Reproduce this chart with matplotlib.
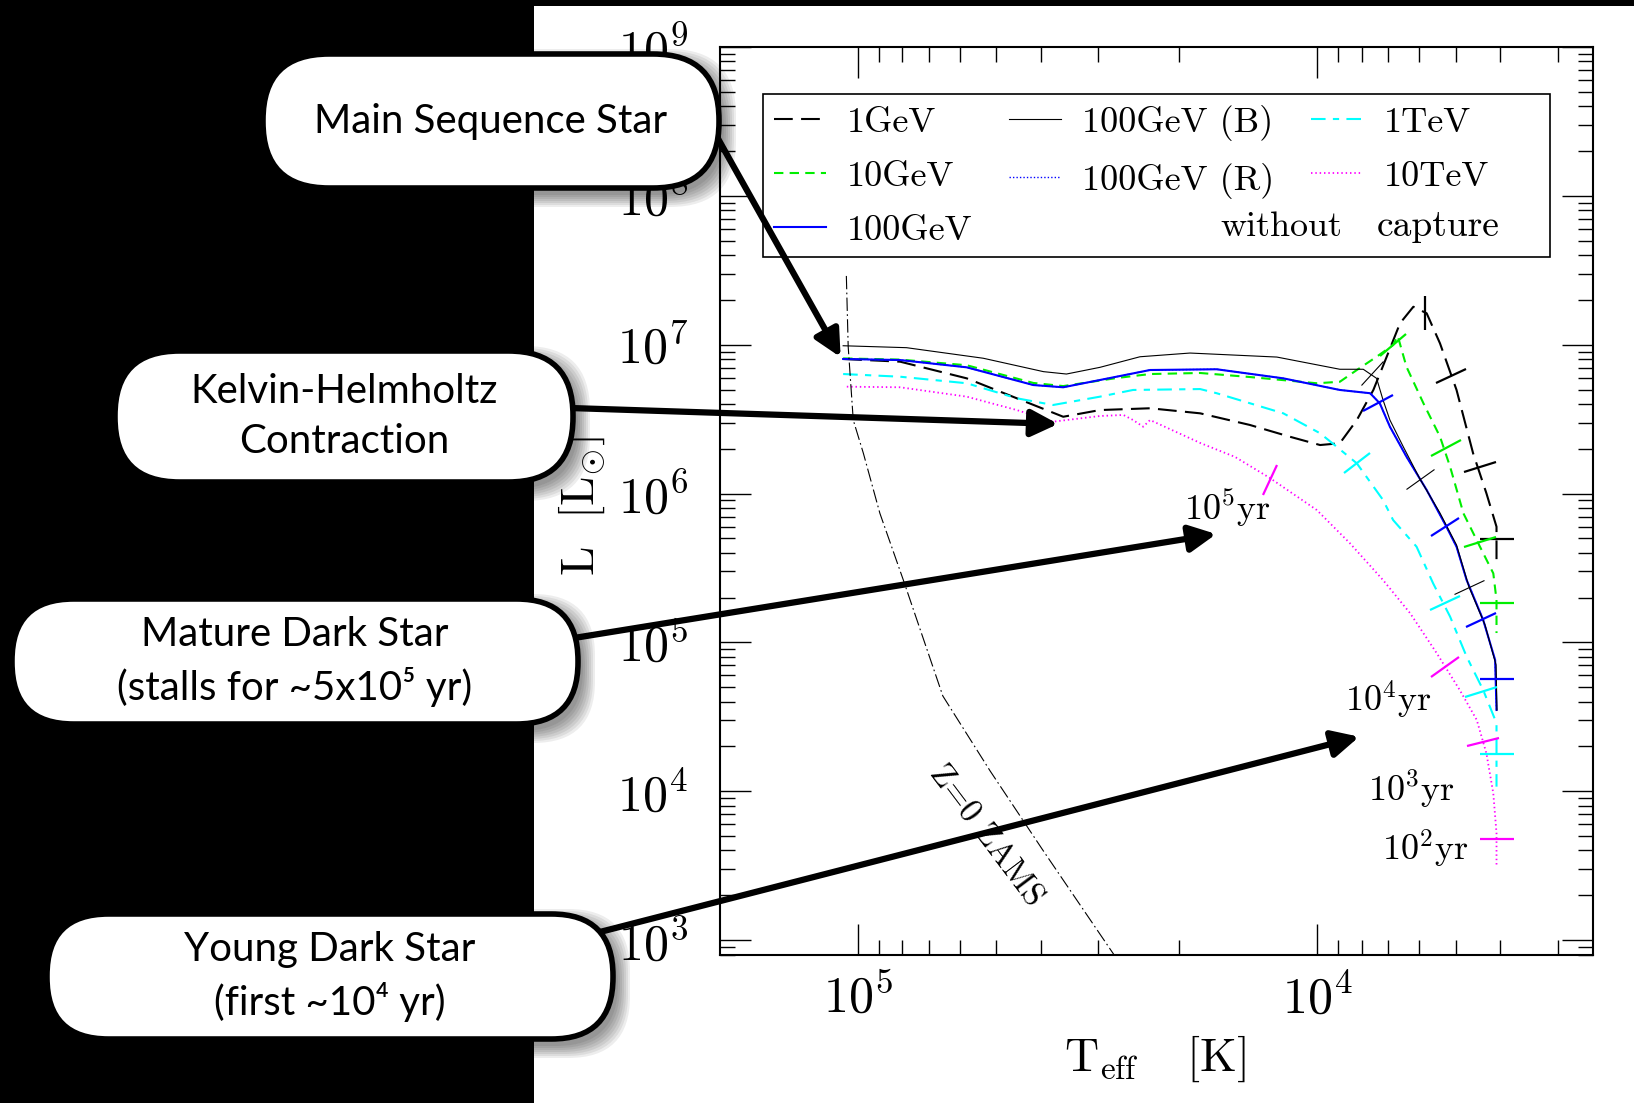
import numpy as np
import matplotlib.pyplot as plt
from matplotlib.markers import MarkerStyle
from matplotlib.transforms import Affine2D
from matplotlib.patches import FancyBboxPatch, Rectangle, ConnectionPatch
from matplotlib.ticker import LogLocator, FuncFormatter, NullFormatter

plt.rcParams['mathtext.fontset'] = 'cm'

# tracks: log10(Teff [K]) and log10(L [Lsun])
lt_1gev = [5.032, 4.908, 4.763, 4.654, 4.553, 4.473, 4.364, 4.255, 4.147, 4.060, 3.994, 3.951,
           3.914, 3.878, 3.849, 3.820, 3.791, 3.762, 3.733, 3.697, 3.661, 3.632, 3.610, 3.610]
ll_1gev = [6.904, 6.886, 6.774, 6.640, 6.516, 6.561, 6.573, 6.539, 6.461, 6.382, 6.326, 6.338,
           6.494, 6.696, 6.919, 7.144, 7.255, 7.211, 7.009, 6.696, 6.271, 6.002, 5.777, 5.509]

lt_10gev = [5.032, 4.908, 4.763, 4.618, 4.553, 4.437, 4.364, 4.255, 4.147, 4.001, 3.951, 3.914,
            3.871, 3.835, 3.825, 3.806, 3.769, 3.733, 3.711, 3.682, 3.646, 3.617, 3.610, 3.610]
ll_10gev = [6.908, 6.900, 6.862, 6.743, 6.722, 6.776, 6.803, 6.810, 6.783, 6.741, 6.751, 6.830,
            6.919, 6.998, 7.059, 6.852, 6.606, 6.382, 6.180, 5.867, 5.643, 5.464, 5.285, 5.063]

lt_100gev = [5.032, 4.908, 4.763, 4.618, 4.553, 4.437, 4.364, 4.219, 4.074, 3.951, 3.885, 3.864,
             3.842, 3.806, 3.762, 3.719, 3.697, 3.675, 3.639, 3.613, 3.610]
ll_100gev = [6.904, 6.897, 6.848, 6.729, 6.714, 6.785, 6.830, 6.835, 6.774, 6.696, 6.674, 6.606,
             6.449, 6.248, 6.024, 5.777, 5.643, 5.419, 5.151, 4.882, 4.546]

lt_100b = [5.032, 4.894, 4.727, 4.596, 4.546, 4.473, 4.386, 4.277, 4.088, 3.951, 3.900, 3.871,
           3.857, 3.842, 3.813, 3.777, 3.733, 3.697, 3.670, 3.635, 3.611, 3.609]
ll_100b = [6.993, 6.980, 6.909, 6.819, 6.803, 6.848, 6.919, 6.944, 6.917, 6.835, 6.835, 6.774,
           6.629, 6.494, 6.315, 6.100, 5.869, 5.654, 5.374, 5.117, 4.849, 4.546]

lt_1tev = [5.032, 4.908, 4.763, 4.654, 4.575, 4.473, 4.401, 4.255, 4.219, 4.074, 3.994, 3.958,
           3.914, 3.857, 3.835, 3.784, 3.748, 3.711, 3.675, 3.639, 3.610, 3.610]
ll_1tev = [6.803, 6.785, 6.741, 6.640, 6.595, 6.651, 6.696, 6.702, 6.674, 6.539, 6.405, 6.315,
           6.203, 5.957, 5.822, 5.643, 5.397, 5.173, 4.904, 4.680, 4.457, 4.031]

lt_10tev = [5.024, 4.908, 4.763, 4.654, 4.575, 4.473, 4.422, 4.401, 4.379, 4.364, 4.255, 4.179,
            4.103, 4.001, 3.929, 3.857, 3.798, 3.740, 3.690, 3.653, 3.632, 3.617, 3.610, 3.610]
ll_10tev = [6.718, 6.714, 6.651, 6.561, 6.483, 6.521, 6.528, 6.494, 6.449, 6.494, 6.340, 6.246,
            6.104, 5.889, 5.666, 5.419, 5.196, 4.927, 4.680, 4.479, 4.255, 3.986, 3.718, 3.493]

lt_zams = [5.025, 5.021, 5.010, 4.988, 4.952, 4.901, 4.815, 4.712, 4.599, 4.445, 4.420]
ll_zams = [7.462, 6.987, 6.494, 6.271, 5.867, 5.419, 4.640, 4.136, 3.612, 2.913, 2.800]

# time marks on the tracks: (log Teff, log L, tick angle in degrees)
tk_1gev = [(3.766, 7.213, 90), (3.708, 6.790, 25), (3.647, 6.178, 16), (3.610, 5.693, 0)]
tk_100b = [(3.882, 6.810, 48), (3.777, 6.100, 35), (3.670, 5.374, 25)]
tk_10gev = [(3.835, 6.998, 40), (3.719, 6.304, 28), (3.646, 5.672, 17), (3.610, 5.267, 0)]
tk_100gev = [(3.867, 6.606, 29), (3.722, 5.777, 31), (3.644, 5.149, 24), (3.610, 4.756, 0)]
tk_1tev = [(3.913, 6.207, 36), (3.723, 5.263, 24), (3.643, 4.669, 18), (3.610, 4.250, 0)]
tk_10tev = [(4.103, 6.091, 66), (3.722, 4.837, 35), (3.639, 4.331, 13), (3.610, 3.681, 0)]

age_labels = [r'$10^5$yr', r'$10^4$yr', r'$10^3$yr', r'$10^2$yr']
age_lt = [4.195, 3.846, 3.796, 3.764]
age_ll = [5.906, 4.613, 4.015, 3.612]

legend_labels = ['1GeV', '10GeV', '100GeV', '100GeV (B)', '100GeV (R)', '1TeV', '10TeV']

W, H = 1634, 1103
fig = plt.figure(figsize=(W / 100, H / 100), dpi=100, facecolor='black')
inch = fig.dpi_scale_trans


def px(x, y):
    return x / 100, (H - y) / 100


# white panel, black strip on top and on the left
fig.add_artist(Rectangle(px(534, H), (W - 534) / 100, (H - 6) / 100, transform=inch,
                         fc='white', ec='none', zorder=-1))

ax = fig.add_axes([720 / W, (H - 955) / H, 873 / W, 908 / H])
ax.set_facecolor('white')
ax.set_xscale('log')
ax.set_yscale('log')

T = lambda v: 10 ** np.asarray(v)

h1, = ax.plot(T(lt_1gev), T(ll_1gev), color='black', lw=1.5, dashes=(9, 4))
h10, = ax.plot(T(lt_10gev), T(ll_10gev), color='#00ee00', lw=1.5, dashes=(4.5, 3))
hR, = ax.plot(T(lt_100gev), T(ll_100gev), color='blue', lw=1.0, dashes=(1, 1.5))
h100, = ax.plot(T(lt_100gev), T(ll_100gev), color='blue', lw=1.5)
hB, = ax.plot(T(lt_100b), T(ll_100b), color='black', lw=0.8)
h1t, = ax.plot(T(lt_1tev), T(ll_1tev), color='cyan', lw=1.5, dashes=(7, 3.5, 3, 3.5))
h10t, = ax.plot(T(lt_10tev), T(ll_10tev), color='magenta', lw=1.3, dashes=(0.8, 1.6))
ax.plot(T(lt_zams), T(ll_zams), color='black', lw=0.8, dashes=(12, 3, 1.5, 3))


def time_ticks(ticks, color, mew):
    for lt, ll, ang in ticks:
        m = MarkerStyle('_', transform=Affine2D().rotate_deg(ang))
        ax.plot(10 ** lt, 10 ** ll, marker=m, ms=24, mew=mew, color=color, ls='none')


time_ticks(tk_1gev, 'black', 1.6)
time_ticks(tk_100b, 'black', 0.8)
time_ticks(tk_10gev, '#00ee00', 1.6)
time_ticks(tk_100gev, 'blue', 1.6)
time_ticks(tk_1tev, 'cyan', 1.6)
time_ticks(tk_10tev, 'magenta', 1.6)

for s, lt, ll in zip(age_labels, age_lt, age_ll):
    ax.text(10 ** lt, 10 ** ll, s, family='cmr10', fontsize=26, ha='center', va='center')

ax.text(10 ** 4.721, 10 ** 3.699, 'Z=0 ZAMS', family='cmr10', fontsize=24,
        rotation=-53, rotation_mode='anchor', ha='center', va='center')

ax.set_xlim(10 ** 5.3, 10 ** 3.4)
ax.set_ylim(10 ** 2.9, 1e9)

fmt = FuncFormatter(lambda v, p: r'$10^{%d}$' % round(np.log10(v)))
for axis in (ax.xaxis, ax.yaxis):
    axis.set_major_locator(LogLocator(base=10, numticks=20))
    axis.set_minor_locator(LogLocator(base=10, subs=np.arange(2, 10), numticks=100))
    axis.set_major_formatter(fmt)
    axis.set_minor_formatter(NullFormatter())
ax.tick_params(which='both', direction='in', top=True, right=True, width=1.0, colors='black')
ax.tick_params(which='major', length=22, labelsize=36)
ax.tick_params(which='minor', length=11)
ax.tick_params(axis='y', which='major', pad=23)
ax.tick_params(axis='x', which='major', pad=14)
for sp in ax.spines.values():
    sp.set_linewidth(1.5)

ax.set_xlabel(r'${\rm T}_{\rm eff}\quad\,[{\rm K}]$', fontsize=34)
ax.xaxis.set_label_coords(0.498, -0.086)
ax.set_ylabel(r'${\rm L}\ \ [{\rm L}_{\odot}]$', fontsize=34)
ax.yaxis.set_label_coords(-0.130, 0.495)

# legend entries without frame, the box is drawn on its own
leg = ax.legend([h1, h10, h100, hB, hR, h1t, h10t], legend_labels, ncol=3, loc='upper left',
                bbox_to_anchor=(0.0493, 0.9482), borderaxespad=0, frameon=False,
                prop={'family': 'cmr10', 'size': 26}, handlelength=1.45, handletextpad=0.58,
                labelspacing=0.6, borderpad=0.3, columnspacing=1.0)
ax.add_patch(Rectangle((0.0493, 0.7687), 0.9015, 0.1795, transform=ax.transAxes, fc='none',
                       ec='black', lw=1.2, zorder=6))
ax.text(0.6425, 0.802, 'without', transform=ax.transAxes, family='cmr10', fontsize=26,
        ha='center', va='center', zorder=6)
ax.text(0.8227, 0.802, 'capture', transform=ax.transAxes, family='cmr10', fontsize=27,
        ha='center', va='center', zorder=6)

# callouts: text, box (x0, y0, x1, y1) in pixels, arrow start in pixels, arrow tip in data
callouts = [
    ('Main Sequence Star', (263, 54, 719, 188), (712, 128), (5.0345, 6.900)),
    ('Kelvin-Helmholtz\nContraction', (115, 351, 573, 482), (570, 408), (4.558, 6.467)),
    ('Mature Dark Star\n(stalls for ~5x10\u2075 yr)', (12, 599, 578, 724), (574, 638), (4.214, 5.731)),
    ('Young Dark Star\n(first ~10\u2074 yr)', (47, 914, 613, 1039), (596, 933), (3.903, 4.371)),
]

for text, (x0, y0, x1, y1), (sx, sy), (tl, tlum) in callouts:
    con = ConnectionPatch(xyA=px(sx, sy), coordsA=inch, xyB=(10 ** tl, 10 ** tlum),
                          coordsB=ax.transData, arrowstyle='-|>,head_length=0.4,head_width=0.2',
                          mutation_scale=40, lw=4.5, color='black', shrinkA=0, shrinkB=2,
                          zorder=8)
    fig.add_artist(con)
    bx, by = px(x0, y1)
    bw, bh = (x1 - x0) / 100, (y1 - y0) / 100
    r = bh / 2 - 0.01
    for k in range(7):
        fig.add_artist(FancyBboxPatch((bx + 0.05, by - 0.07), bw, bh,
                                      boxstyle='round,pad=%.3f,rounding_size=%.3f' % (0.02 * k, r),
                                      transform=inch, fc='black', ec='none', alpha=0.07,
                                      zorder=9))
    fig.add_artist(FancyBboxPatch((bx, by), bw, bh, boxstyle='round,pad=0,rounding_size=%.3f' % r,
                                  transform=inch, fc='white', ec='black', lw=4, zorder=10))
    cx, cy = px((x0 + x1) / 2, (y0 + y1) / 2)
    fig.text(cx, cy, text, transform=inch, ha='center', va='center', multialignment='center',
             family=['Lato', 'DejaVu Sans'], fontsize=29, linespacing=1.45, zorder=11)

fig.savefig('out.png', dpi=100, facecolor='black')
